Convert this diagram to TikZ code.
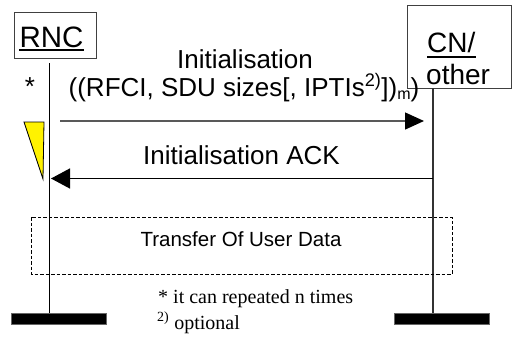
\documentclass[tikz,border=0pt]{standalone}
\usepackage{fontspec}
\setmainfont{Liberation Sans}
\newfontfamily\timesf{Liberation Serif}
\usetikzlibrary{arrows.meta}
\tikzset{
  actorbox/.style={draw=black!75, line width=0.9pt, inner sep=0pt},
  lifeline/.style={line width=1.6pt},
  msgline/.style={line width=1.4pt},
  ulinestyle/.style={line width=2.2pt},
  endbar/.style={fill=black, draw=black!60, line width=0.6pt, inner sep=0pt, minimum width=95pt, minimum height=11pt},
  bigtxt/.style={font=\fontsize{26}{30}\selectfont, inner sep=0pt},
  actortxt/.style={font=\fontsize{28}{32}\selectfont, inner sep=0pt},
  foottxt/.style={font=\timesf\fontsize{20}{23}\selectfont, inner sep=0pt},
}
\begin{document}
\begin{tikzpicture}[x=1pt, y=-1pt]
\useasboundingbox (0,0) rectangle (512,338);
% actor boxes
\node[actorbox, minimum width=82pt, minimum height=46pt] (rnc) at (55,35) {};
\node[actortxt, font=\fontsize{29.5}{32}\selectfont, anchor=base] (rnclbl) at (51.5,47) {RNC};
\draw[ulinestyle] ([yshift=-3pt]rnclbl.base west) -- ([yshift=-3pt]rnclbl.base east);
\node[actorbox, minimum width=104pt, minimum height=83pt] (cn) at (459,46.5) {};
\node[actortxt, anchor=base west] (cnlbl) at (427,52) {CN/};
\draw[ulinestyle] ([yshift=-5pt]cnlbl.base west) -- ([yshift=-5pt]cnlbl.base east);
\node[actortxt, anchor=base west] (otherlbl) at (426,84) {other};
% lifelines
\coordinate (rtop) at (49.5,63);
\coordinate (rbot) at (49.5,313);
\coordinate (ctop) at (433,88);
\coordinate (cbot) at (433,313);
\draw[lifeline] (rtop) -- (rbot);
\draw[lifeline, black!80] (ctop) -- (cbot);
% end bars
\node[endbar] (rbar) at (58.5,318.5) {};
\node[endbar] (cbar) at (442,318.5) {};
% star and yellow triangle
\node[bigtxt, anchor=base] (star) at (30,95) {*};
\filldraw[fill=yellow, draw=black, line width=0.8pt] (24,122) -- (44,122) -- (43,179) -- cycle;
% message 1
\node[bigtxt, anchor=base] (m1a) at (245,68) {Initialisation};
\node[bigtxt, anchor=base] (m1b) at (244,96) {((RFCI, SDU sizes[, IPTIs\textsuperscript{2)}])\raisebox{-0.12em}{\fontsize{16}{16}\selectfont m})};
\coordinate (a1s) at (60,121);
\coordinate (a1e) at (424,121);
\draw[msgline, black!65, -{Triangle[length=19pt,width=17pt,color=black]}] (a1s) -- (a1e);
% message 2
\node[bigtxt, anchor=base] (m2) at (241.5,164) {Initialisation ACK};
\coordinate (a2s) at (433,178.5);
\coordinate (a2e) at (51,178.5);
\draw[msgline, -{Triangle[length=19pt,width=20pt]}] (a2s) -- (a2e);
% transfer box
\draw[dashed, dash pattern=on 3.5pt off 2pt, line width=0.7pt] (31,217) rectangle (452,274);
\node[font=\fontsize{20.5}{24}\selectfont, inner sep=0pt, anchor=base] (tud) at (241,246) {Transfer Of User Data};
% footnotes
\node[foottxt, anchor=base west] (fn1) at (158,303) {* it can repeated n times};
\node[foottxt, anchor=base west] (fn2) at (157,329) {\textsuperscript{2)} optional};
\end{tikzpicture}
\end{document}
